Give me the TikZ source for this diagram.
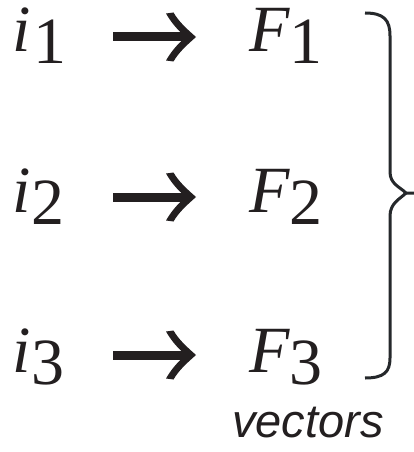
\documentclass[tikz,border=0pt]{standalone}
\usepackage{fontspec}
\setmainfont{Liberation Serif}
\newfontfamily\vecfont{Liberation Sans}
\usetikzlibrary{arrows.meta}
\definecolor{ink}{HTML}{231F20}
\definecolor{bracecol}{HTML}{25282B}
\pgfdeclarearrow{
  name=BigHead,
  setup code={%
    \pgfarrowssettipend{0pt}%
    \pgfarrowssetlineend{-14pt}%
    \pgfarrowssetbackend{-30pt}%
    \pgfarrowssetvisualbackend{-30pt}%
    \pgfarrowshullpoint{0pt}{0pt}%
    \pgfarrowshullpoint{-30pt}{24.5pt}%
    \pgfarrowshullpoint{-30pt}{-24.5pt}%
  },
  drawing code={%
    \pgfpathmoveto{\pgfpoint{0pt}{0pt}}%
    \pgfpathcurveto{\pgfpoint{-9pt}{8pt}}{\pgfpoint{-17pt}{15pt}}{\pgfpoint{-22.5pt}{24.5pt}}%
    \pgfpathlineto{\pgfpoint{-30pt}{23.5pt}}%
    \pgfpathcurveto{\pgfpoint{-25pt}{15pt}}{\pgfpoint{-20pt}{9pt}}{\pgfpoint{-15pt}{4.5pt}}%
    \pgfpathlineto{\pgfpoint{-15pt}{-4.5pt}}%
    \pgfpathcurveto{\pgfpoint{-20pt}{-9pt}}{\pgfpoint{-25pt}{-15pt}}{\pgfpoint{-30pt}{-23.5pt}}%
    \pgfpathlineto{\pgfpoint{-22.5pt}{-24.5pt}}%
    \pgfpathcurveto{\pgfpoint{-17pt}{-15pt}}{\pgfpoint{-9pt}{-8pt}}{\pgfpoint{0pt}{0pt}}%
    \pgfpathclose
    \pgfusepathqfill
  },
}
\tikzset{
  lbl/.style={inner sep=0pt, anchor=base west, text=ink, font=\fontsize{66}{70}\selectfont},
  bigarrow/.style={draw=ink, fill=ink, line width=9pt, line cap=butt, -{BigHead}},
  bracestyle/.style={draw=bracecol, line width=3pt, line cap=butt, line join=round},
  caption/.style={inner sep=0pt, anchor=base west, text=ink, font=\vecfont\itshape\fontsize{47}{50}\selectfont}
}
\newcommand{\lowdigit}[1]{\raisebox{-12pt}{#1}}
\begin{document}
\begin{tikzpicture}[x=1pt,y=1pt]
\useasboundingbox (0,0) rectangle (414,-452);
\fill[white] (0,0) rectangle (414,-452);
% left column
\node[lbl] (i1) at (12,-52) {\itshape i\kern3pt\upshape\lowdigit{1}};
\node[lbl] (i2) at (12,-212) {\itshape i\kern1pt\upshape\lowdigit{2}};
\node[lbl] (i3) at (12,-372) {\itshape i\kern1pt\upshape\lowdigit{3}};
% right column
\node[lbl] (F1) at (249,-52) {\itshape F\upshape\lowdigit{1}};
\node[lbl] (F2) at (249,-212) {\itshape F\upshape\lowdigit{2}};
\node[lbl] (F3) at (249,-372) {\itshape F\upshape\lowdigit{3}};
% arrows
\coordinate (a1) at (113,-37);
\coordinate (a2) at (113,-197);
\coordinate (a3) at (113,-355);
\draw[bigarrow] (a1) -- ([xshift=-53pt]a1 -| F1.west);
\draw[bigarrow] (a2) -- ([xshift=-53pt]a2 -| F2.west);
\draw[bigarrow] (a3) -- ([xshift=-53pt]a3 -| F3.west);
% brace
\draw[bracestyle] (365,-13) .. controls (384,-13) and (390,-20) .. (390,-36)
  -- (390,-172) .. controls (390,-184) and (400,-187) .. (406,-193) -- (414,-193);
\draw[bracestyle] (406,-193) .. controls (400,-199) and (390,-203) .. (390,-216)
  -- (390,-358) .. controls (390,-372) and (384,-378) .. (365,-378);
\node[caption] (cap) at (232,-437) {vectors};
\end{tikzpicture}
\end{document}
